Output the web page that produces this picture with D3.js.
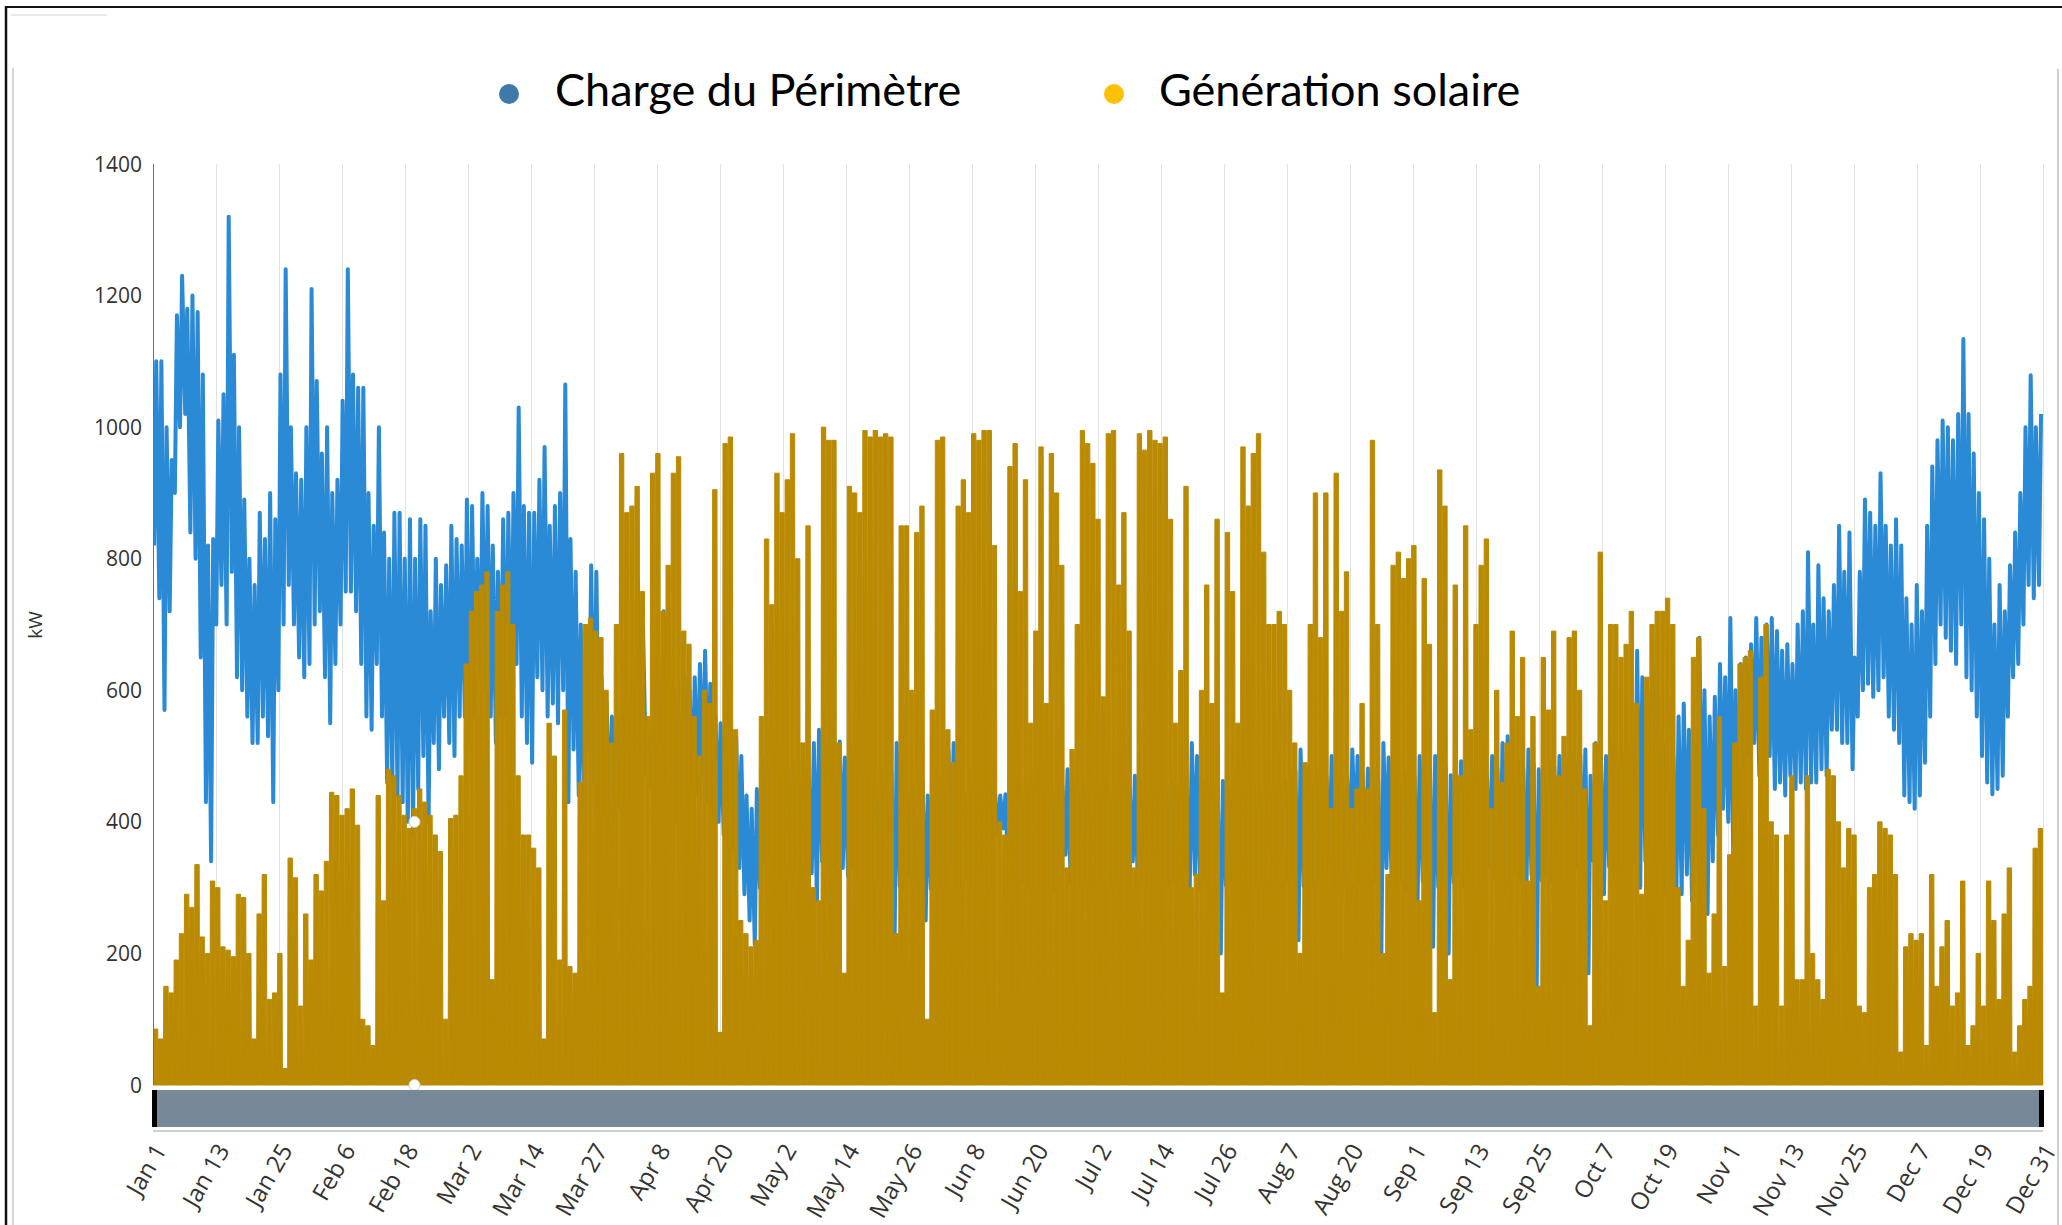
<!DOCTYPE html>
<html><head><meta charset="utf-8">
<script src="https://cdn.jsdelivr.net/npm/d3@7"></script>
<style>
html,body{margin:0;padding:0;background:#fff;}
svg{display:block;}
</style></head>
<body>
<svg id="chart" width="2062" height="1225"></svg>
<script>
// ---------- DATA ----------
const seriesNames = ["Charge du Périmètre", "Génération solaire"];
const tickLabels = ["Jan 1","Jan 13","Jan 25","Feb 6","Feb 18","Mar 2","Mar 14","Mar 27","Apr 8","Apr 20",
  "May 2","May 14","May 26","Jun 8","Jun 20","Jul 2","Jul 14","Jul 26","Aug 7","Aug 20",
  "Sep 1","Sep 13","Sep 25","Oct 7","Oct 19","Nov 1","Nov 13","Nov 25","Dec 7","Dec 19","Dec 31"];
const yTicks = [0,200,400,600,800,1000,1200,1400];
const yLabel = "kW";

// daily peak of solar generation (kW), Jan 1 .. Dec 31
const solarPeak = [
85,70,150,140,190,230,290,270,335,225,
200,310,300,210,205,195,290,285,200,70,
260,320,130,140,200,25,345,315,120,260,
190,320,295,340,445,440,410,420,450,395,
100,90,60,440,280,480,470,440,410,390,
420,450,430,410,380,355,100,405,410,470,
640,720,750,760,780,160,720,760,780,700,
470,380,380,360,330,70,550,500,190,570,
180,170,460,700,710,690,680,600,520,700,
960,870,880,910,750,560,930,960,720,790,
930,955,690,670,560,500,600,580,905,80,
975,985,540,250,230,210,220,560,830,730,
930,870,920,990,800,520,850,300,280,1000,
980,980,520,170,910,900,870,995,985,995,
985,990,985,230,850,850,600,840,880,100,
570,980,985,540,490,880,920,870,990,980,
995,995,820,400,380,940,975,750,920,550,
690,970,580,960,900,790,330,510,700,995,
975,945,860,590,990,995,760,870,690,330,
990,965,995,980,975,985,860,550,630,910,
300,320,600,760,580,860,140,840,750,550,
970,880,960,990,810,700,700,720,700,600,
520,200,490,700,900,680,900,420,930,720,
780,420,450,580,450,980,700,200,320,790,
810,770,800,820,280,770,670,110,935,880,
160,760,470,850,540,700,790,830,420,600,
460,520,690,560,650,310,560,150,650,570,
690,470,530,680,690,600,450,90,520,810,
280,700,700,650,670,720,580,290,620,700,
720,720,740,700,300,150,220,650,680,420,
170,260,560,180,350,520,640,650,660,120,
620,700,400,380,120,380,470,160,160,470,
200,160,130,480,470,400,330,390,380,120,
110,300,320,400,390,380,320,50,210,230,
220,230,60,320,150,210,250,120,140,310,
60,90,200,120,310,250,130,260,330,50,
90,130,150,360,390];

// daily maximum of the perimeter load (kW)
const loadMax = [
1100,1100,1000,950,1170,1230,1180,1200,1175,1080,
820,830,1010,1050,1320,1110,1000,890,800,760,
870,830,900,860,1080,1240,1000,930,920,1000,
1210,1070,960,1000,900,920,1040,1240,1080,1060,
1060,900,850,1000,840,800,870,870,800,860,
800,860,850,720,800,760,790,850,830,820,
890,880,800,900,880,820,780,860,870,900,
1030,880,870,870,920,970,850,880,900,1065,
830,780,700,620,790,780,620,580,560,560,
600,580,600,770,700,530,600,580,720,640,
600,560,620,600,620,640,660,610,560,550,
520,540,530,500,440,420,450,500,480,500,
475,462,470,488,458,482,468,520,540,515,
478,466,522,498,518,482,455,472,458,448,
466,455,474,520,462,448,458,452,463,440,
452,468,446,510,520,457,445,466,452,461,
447,458,442,440,442,453,462,448,459,451,
463,449,458,446,462,455,480,461,447,458,
452,464,449,458,446,461,453,466,449,470,
458,447,462,451,457,446,463,455,460,449,
520,500,461,452,458,447,462,451,459,448,
463,452,458,449,464,451,457,446,462,471,
478,510,482,463,472,458,469,500,472,461,
468,510,500,472,481,468,462,520,498,471,
462,474,481,469,500,472,483,500,468,482,
471,479,492,468,483,471,478,469,500,482,
520,530,478,492,481,510,488,480,479,491,
483,500,489,478,492,502,510,470,520,498,
500,512,498,508,501,522,660,620,600,640,
560,520,450,500,560,580,540,520,680,600,
560,590,640,620,710,600,640,650,670,710,
680,700,710,690,660,670,640,700,720,810,
700,790,740,720,760,850,780,840,650,780,
890,870,850,930,850,820,860,820,740,700,
760,720,850,940,980,1010,1000,980,1020,1134,
1020,960,900,860,800,700,760,720,790,840,
900,1000,1079,1000,1020];

// daily minimum of the perimeter load (kW)
const loadMin = [
820,740,570,720,900,1000,1020,840,800,650,
430,340,700,760,700,780,620,600,560,520,
520,560,530,430,600,700,760,700,650,620,
640,700,720,620,550,640,700,750,750,720,
640,560,540,640,560,460,460,440,430,400,
380,450,500,400,520,480,560,520,500,560,
560,520,560,620,600,560,520,560,560,580,
640,560,520,490,620,600,560,580,550,600,
430,510,440,420,510,460,420,410,380,400,
420,420,430,500,480,470,450,430,520,460,
440,400,420,430,450,440,470,430,400,400,
380,360,360,330,290,250,213,300,340,350,
322,318,332,316,324,340,318,322,280,340,
332,318,324,330,318,332,321,312,298,303,
311,297,305,220,302,296,318,309,302,250,
298,312,301,330,340,306,297,313,301,309,
296,304,299,380,390,302,311,298,308,301,
309,297,312,301,298,310,350,307,299,303,
311,298,304,309,297,303,312,299,302,340,
298,309,301,296,312,300,303,309,297,304,
300,320,297,311,302,299,200,303,309,298,
302,311,297,303,309,298,304,311,299,312,
320,220,302,311,298,312,301,340,303,309,
302,360,350,308,321,299,311,200,330,309,
302,311,298,312,280,309,321,210,301,312,
200,308,322,301,318,309,302,311,330,312,
320,290,311,322,308,280,319,150,311,321,
309,330,318,312,322,331,330,170,340,318,
290,332,318,331,322,340,340,300,340,360,
330,370,290,300,300,290,320,280,350,330,
260,340,380,420,400,320,420,480,500,520,
470,460,500,450,460,440,470,450,460,450,
460,460,480,470,540,540,520,520,480,560,
600,610,590,600,620,560,540,520,440,430,
420,440,490,560,640,700,680,660,640,700,
620,600,560,500,460,442,450,470,560,620,
640,700,760,740,760];

// tooltip / hover point shown in the picture (Feb 20)
const hoverDay = [50.5];
const hoverValues = [400, 0];

// ---------- LAYOUT ----------
const W = 2062, H = 1225;
const plot = {left: 153, right: 2043, top: 164, bottom: 1085};
const colors = {load: "#2a8ad6", solar: "#b98a02", loadDot: "#3e79aa", solarDot: "#ffc000",
  nav: "#778899", grid: "#e2e2e2", axis: "#6f6f6f", text: "#333"};

const svg = d3.select("#chart");
const nDays = solarPeak.length;
const x = d3.scaleLinear().domain([0, nDays]).range([plot.left, plot.right]);
const y = d3.scaleLinear().domain([0, 1400]).range([plot.bottom, plot.top]);

// outer frame of the screenshot
svg.append("line").attr("x1", 6).attr("x2", W).attr("y1", 7).attr("y2", 7)
  .attr("stroke", "#111").attr("stroke-width", 2);
svg.append("line").attr("x1", 6).attr("x2", 6).attr("y1", 6).attr("y2", H)
  .attr("stroke", "#111").attr("stroke-width", 2.5);
svg.append("line").attr("x1", 13).attr("x2", 13).attr("y1", 68).attr("y2", H)
  .attr("stroke", "#c8c8c8").attr("stroke-width", 1.5);
svg.append("line").attr("x1", 2058).attr("x2", 2058).attr("y1", 69).attr("y2", H)
  .attr("stroke", "#cfcfcf").attr("stroke-width", 2);
svg.append("line").attr("x1", 11).attr("x2", 107).attr("y1", 15).attr("y2", 15)
  .attr("stroke", "#e2e2e2").attr("stroke-width", 1.5);

// vertical grid lines (evenly spaced date ticks)
const tickPos = d3.range(tickLabels.length).map(i => i * nDays / (tickLabels.length - 1));
svg.append("g").selectAll("line").data(tickPos).join("line")
  .attr("x1", d => Math.round(x(d)) + 0.5).attr("x2", d => Math.round(x(d)) + 0.5)
  .attr("y1", plot.top).attr("y2", plot.bottom)
  .attr("stroke", colors.grid).attr("stroke-width", 1);

// clip
svg.append("clipPath").attr("id", "clip").append("rect")
  .attr("x", plot.left).attr("y", plot.top - 20)
  .attr("width", plot.right - plot.left).attr("height", plot.bottom - plot.top + 21);

const plotG = svg.append("g").attr("clip-path", "url(#clip)");

// load line: night minimum then afternoon maximum each day
const loadPts = d3.range(nDays).flatMap(d => [
  {t: d + 0.22, v: loadMin[d]},
  {t: d + 0.62, v: loadMax[d]}
]);
plotG.append("path")
  .datum(loadPts)
  .attr("fill", "none")
  .attr("stroke", colors.load)
  .attr("stroke-width", 4)
  .attr("stroke-linejoin", "round")
  .attr("d", d3.line().x(p => x(p.t)).y(p => y(p.v)));

// solar columns (one per day)
plotG.append("g").selectAll("path").data(solarPeak).join("path")
  .attr("fill", colors.solar)
  .attr("stroke", colors.solar)
  .attr("stroke-width", 1)
  .attr("stroke-linejoin", "miter")
  .attr("d", (v, d) => {
    const p = d3.path();
    p.moveTo(x(d), y(0));
    p.lineTo(x(d + 0.08), y(v));
    p.lineTo(x(d + 0.92), y(v));
    p.lineTo(x(d + 1), y(0));
    p.closePath();
    return p.toString();
  });

// y axis line
svg.append("line").attr("x1", plot.left + 0.5).attr("x2", plot.left + 0.5)
  .attr("y1", plot.top).attr("y2", plot.bottom)
  .attr("stroke", colors.axis).attr("stroke-width", 1);

// y tick labels
svg.append("g").selectAll("text").data(yTicks).join("text")
  .attr("x", 142).attr("y", d => y(d)).attr("dy", "0.36em")
  .attr("text-anchor", "end")
  .attr("font-family", "'Open Sans', 'Noto Sans', sans-serif")
  .attr("font-size", 21).attr("fill", colors.text)
  .text(d => d);

// y axis title
svg.append("text")
  .attr("transform", "translate(42,625) rotate(-90)")
  .attr("text-anchor", "middle")
  .attr("font-family", "'Open Sans', 'Noto Sans', sans-serif")
  .attr("font-size", 19).attr("fill", colors.text)
  .text(yLabel);

// hover markers
svg.append("g").selectAll("circle").data(hoverValues).join("circle")
  .attr("cx", x(hoverDay[0])).attr("cy", v => y(v)).attr("r", 5.5)
  .attr("fill", "#fff").attr("stroke", "#cfcfcf").attr("stroke-width", 1);

// navigator bar
svg.append("rect").attr("x", plot.left).attr("y", 1090)
  .attr("width", plot.right - plot.left).attr("height", 37)
  .attr("fill", colors.nav);
svg.append("rect").attr("x", plot.left - 1).attr("y", 1090).attr("width", 5).attr("height", 37).attr("fill", "#000");
svg.append("rect").attr("x", plot.right - 4).attr("y", 1090).attr("width", 5).attr("height", 37).attr("fill", "#000");
svg.append("line").attr("x1", plot.left).attr("x2", plot.right).attr("y1", 1131).attr("y2", 1131)
  .attr("stroke", "#cfcfcf").attr("stroke-width", 2);

// x tick labels
svg.append("g").selectAll("text").data(tickPos).join("text")
  .attr("transform", d => `translate(${x(d) + 7},1146) rotate(-60)`)
  .attr("text-anchor", "end")
  .attr("dy", "0.35em")
  .attr("font-family", "'Open Sans', 'Noto Sans', sans-serif")
  .attr("font-size", 24).attr("fill", colors.text)
  .text((d, i) => tickLabels[i]);

// legend
const legend = [
  {name: seriesNames[0], color: colors.loadDot, cx: 509, tx: 555},
  {name: seriesNames[1], color: colors.solarDot, cx: 1114, tx: 1159}
];
const lg = svg.append("g").selectAll("g").data(legend).join("g");
lg.append("circle").attr("cx", d => d.cx).attr("cy", 94).attr("r", 10).attr("fill", d => d.color);
lg.append("text").attr("x", d => d.tx).attr("y", 106)
  .attr("font-family", "Lato, 'Open Sans', sans-serif")
  .attr("font-size", 45).attr("fill", "#000")
  .text(d => d.name);
</script>
</body></html>
